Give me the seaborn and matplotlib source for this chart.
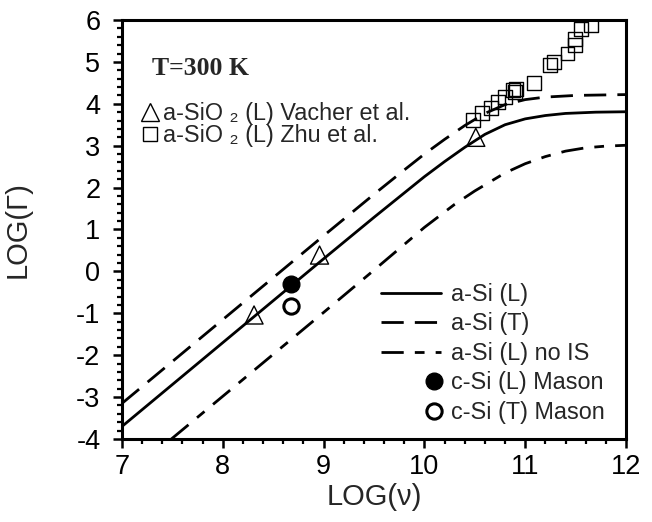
import matplotlib
matplotlib.use("Agg")
import matplotlib.pyplot as plt
import matplotlib.ticker as ticker
from matplotlib.lines import Line2D
from matplotlib.legend_handler import HandlerLine2DCompound
import seaborn as sns

# a-Si (L) model curve
nu_si_l = [7.0, 8.0, 9.0, 9.5, 10.0, 10.2, 10.4, 10.6, 10.8, 11.0, 11.2, 11.4, 11.7, 12.0]
gam_si_l = [-3.70, -1.70, 0.30, 1.29, 2.26, 2.62, 2.96, 3.27, 3.50, 3.64, 3.72, 3.77, 3.80, 3.81]

# a-Si (T) model curve
nu_si_t = [7.0, 8.0, 9.0, 9.5, 9.8, 10.0, 10.2, 10.4, 10.6, 10.8, 11.0, 11.2, 11.5, 12.0]
gam_si_t = [-3.15, -1.15, 0.85, 1.84, 2.42, 2.80, 3.15, 3.48, 3.77, 3.98, 4.10, 4.16, 4.20, 4.22]

# a-Si (L) without IS
nu_nois = [7.49, 8.0, 9.0, 9.5, 10.0, 10.3, 10.5, 10.8, 11.0, 11.2, 11.4, 11.6, 11.8, 12.0]
gam_nois = [-4.0, -2.98, -0.98, 0.03, 1.05, 1.60, 1.92, 2.35, 2.57, 2.74, 2.87, 2.95, 2.99, 3.01]

# measured points
vacher_nu = [8.31, 8.96, 10.51]
vacher_gam = [-1.04, 0.39, 3.20]
zhu_nu = [10.48, 10.575, 10.66, 10.73, 10.80, 10.88, 10.90, 10.91, 11.09,
          11.25, 11.29, 11.42, 11.49, 11.49, 11.55, 11.65]
zhu_gam = [3.61, 3.79, 3.90, 4.04, 4.16, 4.32, 4.28, 4.35, 4.50,
           4.92, 5.00, 5.20, 5.40, 5.55, 5.79, 5.87]
mason_l_nu = [8.68]
mason_l_gam = [-0.30]
mason_t_nu = [8.68]
mason_t_gam = [-0.83]

sns.set_style("ticks")
plt.rcParams['font.family'] = ['Liberation Sans', 'DejaVu Sans']
plt.rcParams['axes.unicode_minus'] = False

DASHED = (0, (8, 4))
DASHDOT = (0, (8, 4, 3.5, 4))
LW = 2.0
LEG_FS = 16.8


class MarkerAtEnd(HandlerLine2DCompound):
    # put the marker at the right end of the handle, next to the text
    def get_xdata(self, legend, xdescent, ydescent, width, height, fontsize):
        return [-xdescent, -xdescent + width], [-xdescent + width - 0.3 * fontsize]


fig = plt.figure(figsize=(6.52, 5.22), dpi=100)
ax = fig.add_axes([0.1871, 0.159, 0.773, 0.8027])

sns.lineplot(x=nu_si_l, y=gam_si_l, color='black', lw=LW, ax=ax)
sns.lineplot(x=nu_si_t, y=gam_si_t, color='black', lw=LW, linestyle=DASHED, ax=ax)
sns.lineplot(x=nu_nois, y=gam_nois, color='black', lw=LW, linestyle=DASHDOT, ax=ax)

sns.scatterplot(x=vacher_nu, y=vacher_gam, marker='^', s=13 ** 2, facecolor='none',
                edgecolor='black', linewidth=1.0, ax=ax, zorder=3)
sns.scatterplot(x=zhu_nu, y=zhu_gam, marker='s', s=10 ** 2, facecolor='none',
                edgecolor='black', linewidth=1.0, ax=ax, zorder=3)
sns.scatterplot(x=mason_l_nu, y=mason_l_gam, marker='o', s=12 ** 2, color='black',
                edgecolor='black', linewidth=1.0, ax=ax, zorder=4)
sns.scatterplot(x=mason_t_nu, y=mason_t_gam, marker='o', s=11 ** 2, facecolor='white',
                edgecolor='black', linewidth=2.2, ax=ax, zorder=4)

ax.set_xlim(7, 12)
ax.set_ylim(-4, 6)
ax.xaxis.set_major_locator(ticker.MultipleLocator(1))
ax.xaxis.set_minor_locator(ticker.MultipleLocator(0.2))
ax.yaxis.set_major_locator(ticker.MultipleLocator(1))
ax.yaxis.set_minor_locator(ticker.MultipleLocator(0.2))
ax.tick_params(which='major', direction='out', length=6.5, width=1.8, labelsize=19.5,
               color='black', labelcolor='black')
ax.tick_params(axis='x', which='major', pad=4)
ax.tick_params(axis='y', which='major', pad=9)
ax.tick_params(which='minor', direction='out', length=3.5, width=1.6, color='black')
for sp in ax.spines.values():
    sp.set_linewidth(2.2)
    sp.set_color('black')

ax.set_xlabel('LOG(\u03bd)', fontsize=21)
ax.set_ylabel('LOG(\u0393)', fontsize=21)
ax.xaxis.set_label_coords(0.5, -0.105)
ax.yaxis.set_label_coords(-0.18, 0.5)

ax.text(0.06, 0.869, 'T=300 K', transform=ax.transAxes, fontsize=18.5,
        fontweight='bold', family=['Liberation Serif', 'DejaVu Serif'], va='baseline')

# upper-left legend for the a-SiO2 data
h_vacher = Line2D([], [], marker='^', ls='', mfc='none', mec='black', ms=13, mew=1.0)
h_zhu = Line2D([], [], marker='s', ls='', mfc='none', mec='black', ms=10, mew=1.0)
leg1 = ax.legend([h_vacher, h_zhu],
                 ['a-SiO \u2082 (L) Vacher et al.', 'a-SiO \u2082 (L) Zhu et al.'],
                 loc='upper left', bbox_to_anchor=(0.034, 0.805), frameon=False,
                 fontsize=LEG_FS, handlelength=0.9, handletextpad=0.12, labelspacing=-0.02,
                 borderpad=0, borderaxespad=0)
ax.add_artist(leg1)

# lower-right legend for a-Si curves and c-Si points
h_l = Line2D([], [], color='black', lw=LW)
h_t = Line2D([], [], color='black', lw=LW, linestyle=DASHED)
h_nois = Line2D([], [], color='black', lw=LW, linestyle=DASHDOT)
h_ml = Line2D([], [], marker='o', ls='', color='black', ms=12)
h_mt = Line2D([], [], marker='o', ls='', mfc='white', mec='black', ms=11, mew=2.2)
ax.legend([h_l, h_t, h_nois, h_ml, h_mt],
          ['a-Si (L)', 'a-Si (T)', 'a-Si (L) no IS', 'c-Si (L) Mason', 'c-Si (T) Mason'],
          loc='lower right', bbox_to_anchor=(0.958, 0.036), frameon=False, fontsize=LEG_FS,
          handlelength=2.55, handletextpad=0.45, labelspacing=0.28, borderpad=0,
          borderaxespad=0, handler_map={h_ml: MarkerAtEnd(), h_mt: MarkerAtEnd()})

fig.savefig('out.png', dpi=100)
